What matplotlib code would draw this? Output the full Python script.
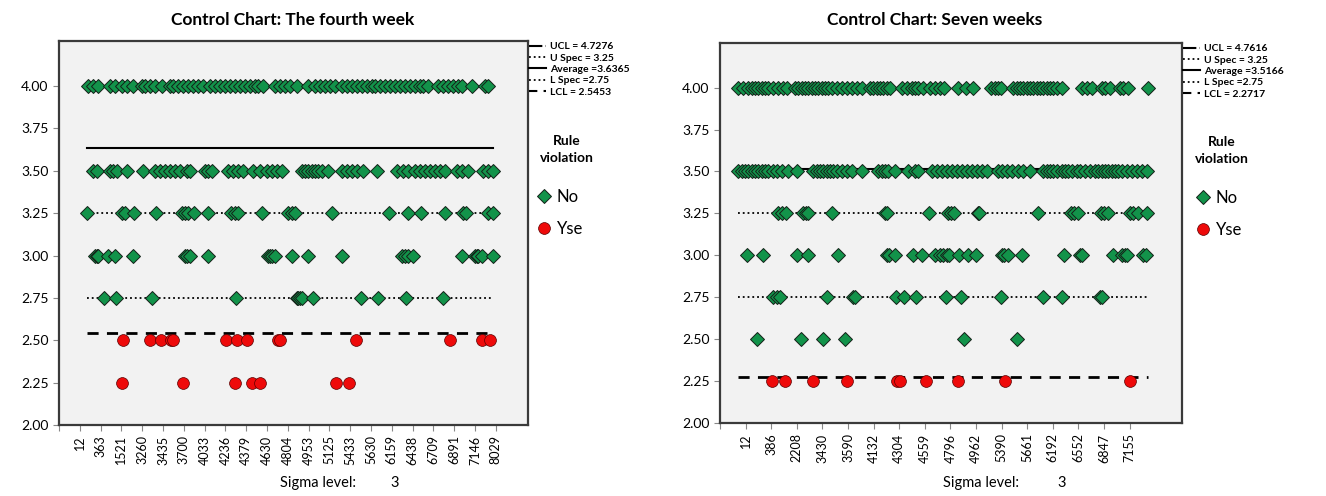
import matplotlib.pyplot as plt
from matplotlib.lines import Line2D
import numpy as np

plt.rcParams['font.family'] = ['Lato', 'DejaVu Sans']

# x positions are case positions in units of the tick spacing
# ---- the fourth week ----
week4_labels = ['12', '363', '1521', '3260', '3435', '3700', '4033', '4236', '4379', '4630',
                '4804', '4953', '5125', '5433', '5630', '6159', '6438', '6709', '6891', '7146', '8029']
week4_x_400 = [1.41, 1.65, 1.89, 2.45, 2.69, 3.01, 3.25, 3.57, 3.97, 4.13, 4.38, 4.62, 4.94, 5.34,
               5.50, 5.74, 5.98, 6.22, 6.46, 6.70, 6.94, 7.26, 7.50, 7.74, 7.98, 8.22, 8.46, 8.70,
               8.94, 9.18, 9.42, 9.58, 9.82, 10.38, 10.63, 10.87, 11.11, 11.43, 11.99, 12.31, 12.55,
               12.79, 13.03, 13.27, 13.59, 13.83, 14.07, 14.31, 14.55, 14.79, 15.03, 15.19, 15.43,
               15.67, 15.91, 16.15, 16.39, 16.63, 16.88, 17.12, 17.36, 17.52, 17.76, 18.24, 18.48,
               18.72, 18.96, 19.20, 19.36, 19.84, 20.48, 20.64]
week4_x_350 = [1.65, 1.81, 2.45, 2.61, 2.77, 3.25, 4.05, 4.62, 4.86, 5.10, 5.34, 5.58, 5.82, 6.14,
               6.30, 7.02, 7.18, 7.34, 8.14, 8.38, 8.62, 8.86, 9.34, 9.66, 9.98, 10.22, 10.46, 10.71,
               11.67, 11.83, 11.99, 12.15, 12.31, 12.47, 12.63, 12.95, 13.59, 13.83, 14.07, 14.31,
               14.63, 15.27, 16.23, 16.55, 16.79, 17.12, 17.36, 17.60, 17.84, 18.08, 18.32, 18.56,
               19.12, 19.36, 19.68, 20.40, 20.64, 20.88]
week4_x_325 = [1.33, 3.01, 3.17, 3.61, 4.65, 5.90, 6.06, 6.22, 6.51, 7.18, 8.25, 8.46, 8.62, 9.74,
               11.03, 11.19, 11.35, 13.11, 15.88, 16.79, 17.39, 18.56, 19.44, 19.55, 20.61, 20.88]
week4_x_300 = [1.73, 1.81, 1.89, 2.37, 2.69, 3.57, 6.06, 6.14, 6.30, 7.18, 10.06, 10.14, 10.22,
               10.38, 11.22, 11.96, 13.62, 16.47, 16.63, 16.79, 17.04, 19.39, 20.00, 20.08, 20.16,
               20.32, 20.88]
week4_x_275 = [2.18, 2.72, 4.46, 8.51, 11.43, 11.51, 11.59, 11.70, 12.20, 14.50, 15.35, 16.68, 18.48]
week4_red_250 = [3.06, 4.38, 4.90, 5.38, 5.50, 8.01, 8.54, 9.02, 10.51, 10.63, 14.26, 18.80, 20.32, 20.72]
week4_red_225 = [3.01, 5.98, 8.47, 9.28, 9.68, 13.33, 13.96]
week4_ucl, week4_uspec, week4_avg, week4_lspec, week4_lcl = 4.7276, 3.25, 3.6365, 2.75, 2.5453

# ---- seven weeks ----
weeks7_labels = ['12', '386', '2208', '3430', '3590', '4132', '4304', '4559', '4796', '4962',
                 '5390', '5661', '6192', '6552', '6847', '7155']
weeks7_x_400 = [0.72, 0.91, 1.11, 1.24, 1.37, 1.50, 1.63, 1.76, 1.89, 2.08, 2.28, 2.47, 2.60, 2.93,
                3.06, 3.19, 3.32, 3.45, 3.58, 3.71, 3.84, 3.97, 4.10, 4.23, 4.36, 4.56, 4.75, 4.95,
                5.14, 5.34, 5.53, 5.86, 5.99, 6.12, 6.25, 6.38, 6.51, 6.64, 7.10, 7.29, 7.49, 7.62,
                7.75, 7.94, 8.20, 8.40, 8.59, 8.76, 9.28, 9.60, 9.90, 10.59, 10.74, 10.87, 10.98,
                11.46, 11.59, 11.72, 11.85, 11.98, 12.11, 12.24, 12.37, 12.50, 12.63, 12.76, 12.89,
                13.02, 13.15, 13.35, 14.13, 14.32, 14.52, 14.91, 15.04, 15.23, 15.63, 15.76, 15.95,
                16.73]
weeks7_x_350 = [0.72, 0.85, 0.98, 1.11, 1.24, 1.37, 1.50, 1.63, 1.76, 1.89, 2.08, 2.21, 2.41, 2.67,
                2.99, 3.65, 3.78, 3.91, 4.04, 4.17, 4.30, 4.43, 4.56, 4.75, 4.95, 5.14, 5.53, 6.18,
                6.32, 6.45, 6.58, 6.84, 7.36, 7.62, 7.75, 8.27, 8.46, 8.66, 8.85, 9.05, 9.24, 9.44,
                9.64, 9.83, 10.03, 10.22, 10.42, 10.87, 11.00, 11.20, 11.39, 11.65, 11.85, 12.11,
                12.63, 12.76, 12.89, 13.02, 13.15, 13.35, 13.48, 13.61, 13.74, 13.93, 14.06, 14.26,
                14.45, 14.65, 14.78, 14.91, 15.04, 15.17, 15.30, 15.43, 15.56, 15.69, 15.89, 16.08,
                16.28, 16.47, 16.67]
weeks7_x_325 = [2.28, 2.41, 2.57, 3.26, 3.35, 3.45, 4.36, 6.45, 6.51, 8.16, 8.92, 9.02, 9.15, 10.07,
                10.12, 12.41, 13.71, 13.84, 13.97, 14.88, 15.01, 15.17, 16.02, 16.15, 16.32, 16.67]
weeks7_x_300 = [1.04, 1.69, 2.99, 3.42, 4.60, 6.51, 6.60, 6.84, 7.55, 7.88, 8.40, 8.59, 8.72, 8.85,
                8.96, 9.35, 9.70, 9.99, 11.00, 11.11, 11.24, 11.78, 13.45, 14.06, 14.13, 15.34,
                15.69, 15.82, 15.92, 16.54, 16.63]
weeks7_x_275 = [2.08, 2.21, 2.34, 4.19, 5.21, 5.27, 6.86, 7.20, 7.64, 8.83, 9.41, 10.98, 12.63,
                13.35, 14.84, 14.93]
weeks7_x_250 = [1.43, 3.16, 4.04, 4.88, 9.54, 11.59]
weeks7_red_225 = [2.02, 2.54, 3.62, 4.95, 6.90, 7.03, 8.05, 9.31, 11.13, 16.02]
weeks7_ucl, weeks7_uspec, weeks7_avg, weeks7_lspec, weeks7_lcl = 4.7616, 3.25, 3.5166, 2.75, 2.2717

GREEN = '#12934a'
RED = '#ee0a0a'


def draw_chart(ax, no_rows, yes_rows, labels, xmax, ucl, uspec, avg, lspec, lcl,
               legend_names, rule_x, key_x):
    all_x = np.concatenate([np.asarray(x) for _, x in no_rows + yes_rows])
    x0, x1 = all_x.min(), all_x.max()

    ax.set_facecolor('#f2f2f2')
    ax.plot([x0, x1], [ucl, ucl], color='black', ls='-.', lw=1.5, zorder=1)
    ax.plot([x0, x1], [uspec, uspec], color='black', ls=':', lw=1.3, zorder=1)
    ax.plot([x0, x1], [avg, avg], color='black', ls='-', lw=1.5, zorder=1)
    ax.plot([x0, x1], [lspec, lspec], color='black', ls=':', lw=1.3, zorder=1)
    ax.plot([x0, x1], [lcl, lcl], color='black', ls=(0, (4, 3)), lw=2, zorder=1)

    for y, xs in no_rows:
        ax.plot(xs, np.full(len(xs), y), ls='none', marker='D', ms=7,
                mfc=GREEN, mec='#142018', mew=0.7, zorder=3)
    for y, xs in yes_rows:
        ax.plot(xs, np.full(len(xs), y), ls='none', marker='o', ms=8.5,
                mfc=RED, mec='#5a0000', mew=0.5, zorder=3)

    ax.set_xlim(0, xmax)
    ax.set_ylim(2.0, 4.266)
    ax.set_yticks(np.arange(2.0, 4.01, 0.25))
    ax.set_yticklabels(['%.2f' % v for v in np.arange(2.0, 4.01, 0.25)], fontsize=10)
    ax.set_xticks(range(len(labels) + 1))
    ax.set_xticklabels([''] + labels, rotation=90, fontsize=9)
    ax.tick_params(axis='both', length=4, color='#888888', width=0.8)
    for s in ax.spines.values():
        s.set_color('#3a3a3a')
        s.set_linewidth(1.6)

    handles = [Line2D([], [], color='black', ls='-.', lw=1.5),
               Line2D([], [], color='black', ls=':', lw=1.3),
               Line2D([], [], color='black', ls='-', lw=1.5),
               Line2D([], [], color='black', ls=':', lw=1.3),
               Line2D([], [], color='black', ls=(0, (4, 3)), lw=1.5)]
    leg1 = ax.legend(handles, legend_names, loc='upper left', bbox_to_anchor=(1.0, 1.0),
                     frameon=False, borderaxespad=0, borderpad=0.1, handlelength=1.6,
                     handletextpad=0.4, labelspacing=0.2, prop={'size': 7.5, 'weight': 'bold'})
    ax.add_artist(leg1)

    ax.text(rule_x, 0.755, 'Rule\nviolation', transform=ax.transAxes, ha='center', va='top',
            fontsize=10, fontweight='bold', linespacing=1.45)
    rule_handles = [Line2D([], [], ls='none', marker='D', ms=7, mfc=GREEN, mec='#142018', mew=0.7),
                    Line2D([], [], ls='none', marker='o', ms=8.5, mfc=RED, mec='#5a0000', mew=0.5)]
    ax.legend(rule_handles, ['No', 'Yse'], loc='upper left', bbox_to_anchor=(key_x, 0.614),
              frameon=False, borderaxespad=0, borderpad=0, fontsize=12, handlelength=0.8,
              handletextpad=0.35, labelspacing=0.95)


fig = plt.figure(figsize=(13.26, 4.96), dpi=100)
ax1 = fig.add_axes([59 / 1326, 71 / 496, 469 / 1326, 384 / 496])
ax2 = fig.add_axes([720 / 1326, 73 / 496, 462 / 1326, 380 / 496])

draw_chart(ax1,
           [(4.00, week4_x_400), (3.50, week4_x_350), (3.25, week4_x_325),
            (3.00, week4_x_300), (2.75, week4_x_275)],
           [(2.50, week4_red_250), (2.25, week4_red_225)],
           week4_labels, 22.55, week4_ucl, week4_uspec, week4_avg, week4_lspec, week4_lcl,
           ['UCL = 4.7276', 'U Spec = 3.25', 'Average =3.6365', 'L Spec =2.75', 'LCL = 2.5453'],
           1.083, 1.02)
draw_chart(ax2,
           [(4.00, weeks7_x_400), (3.50, weeks7_x_350), (3.25, weeks7_x_325),
            (3.00, weeks7_x_300), (2.75, weeks7_x_275), (2.50, weeks7_x_250)],
           [(2.25, weeks7_red_225)],
           weeks7_labels, 18.05, weeks7_ucl, weeks7_uspec, weeks7_avg, weeks7_lspec, weeks7_lcl,
           ['UCL = 4.7616', 'U Spec = 3.25', 'Average =3.5166', 'L Spec =2.75', 'LCL = 2.2717'],
           1.087, 1.031)

fig.text(293 / 1326, 1 - 20 / 496, 'Control Chart: The fourth week', ha='center', va='center',
         fontsize=12.5, fontweight='bold')
fig.text(935 / 1326, 1 - 20 / 496, 'Control Chart: Seven weeks', ha='center', va='center',
         fontsize=12.5, fontweight='bold')
fig.text(280 / 1326, 1 - 483 / 496, 'Sigma level:', va='center', fontsize=10.5)
fig.text(390 / 1326, 1 - 483 / 496, '3', va='center', fontsize=10.5)
fig.text(943 / 1326, 1 - 483 / 496, 'Sigma level:', va='center', fontsize=10.5)
fig.text(1057 / 1326, 1 - 483 / 496, '3', va='center', fontsize=10.5)

fig.savefig('out.png', dpi=100)
